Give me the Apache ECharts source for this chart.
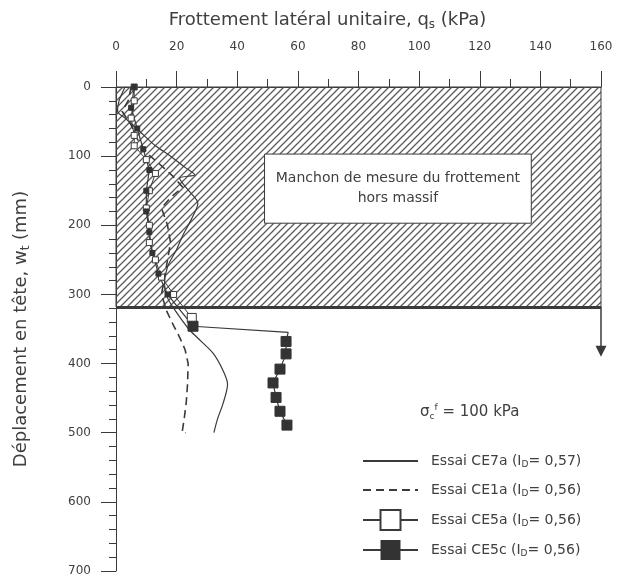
<!DOCTYPE html>
<html>
<head>
<meta charset="utf-8">
<script src="https://cdn.jsdelivr.net/npm/echarts@6/dist/echarts.min.js"></script>
<style>
html, body { margin: 0; padding: 0; background: #fff; }
#chart { width: 624px; height: 578px; }
</style>
</head>
<body>
<div id="chart"></div>
<script>
// essais : nom, indice de densité
var seriesNames = ['CE7a', 'CE1a', 'CE5a', 'CE5c'];
var idValues = ['0,57', '0,56', '0,56', '0,56'];

// zone du manchon hors massif (mm) et cadre du texte [qs, wt]
var sleeveDepth = 318;
var arrowEnd = 382;
var noteBox = [[49, 97], [137, 197]];
var stressValue = '100 kPa';

// points [qs (kPa), wt (mm)]
var ce7a = [[3,0],[1,20],[0.5,35],[3,45],[8,65],[13,85],[18,100],[23,117],[26,127],[21,132],[24,150],[27,168],[25,190],[22,215],[20,235],[17,260],[16,285],[17,305],[19.5,323],[24,350],[26.7,362],[32,385],[35.3,410],[36.8,430],[35.3,458],[33.5,480],[32.3,500]];
var ce1a = [[5,0],[4,20],[2,35],[5,55],[7,75],[10,95],[14,110],[19,130],[22,145],[18,160],[15,175],[17,200],[18,225],[17,250],[16,275],[15,300],[16.8,325],[19,345],[21,362],[22.8,380],[23.8,400],[23.6,430],[23.2,455],[22.5,480],[21.8,500],[23,500]];
var ce5a = [[6,0],[6,20],[5,45],[6,70],[6,85],[10,105],[13,125],[11,150],[10,175],[11,200],[11,225],[13,250],[15,275],[19,300],[25,334]];
var ce5c = [[6,0],[5,30],[7,60],[9,90],[11,120],[10,150],[10,180],[11,210],[12,240],[14,270],[17,300],[25.4,346],[56.8,355],[56.1,368],[56.1,386],[54.1,408],[51.8,428],[52.8,449],[54.1,469],[56.4,489]];
var ce5cBend = 12;

var ink = '#3a3a3a';
var txt = '#404040';
var font = 'DejaVu Sans';

var hatch = function() {
	var c = document.createElement('canvas');
	c.width = 7;
	c.height = 7;
	var g = c.getContext('2d');
	g.strokeStyle = '#5a5a5a';
	g.lineWidth = 1.3;
	g.beginPath();
	g.moveTo(0, 7); g.lineTo(7, 0);
	g.moveTo(-1, 1); g.lineTo(1, -1);
	g.moveTo(6, 8); g.lineTo(8, 6);
	g.stroke();
	return c;
};

var chart = echarts.init(document.getElementById('chart'));

var option = {
	animation: false,
	backgroundColor: '#fff',
	textStyle: { fontFamily: font, color: txt },
	grid: { left: 116, right: 23, top: 87, bottom: 7 },
	xAxis: {
		type: 'value',
		position: 'top',
		offset: 8,
		min: 0,
		max: 160,
		interval: 20,
		name: 'Frottement latéral unitaire, q{sub|s} (kPa)',
		nameLocation: 'middle',
		nameGap: 48,
		nameTextStyle: {
			fontSize: 18, color: txt, fontFamily: font, padding: [0, 62, 0, 0],
			rich: { sub: { fontSize: 12, color: txt, fontFamily: font, padding: [9, 0, 0, 0] } }
		},
		axisLine: { lineStyle: { color: ink, width: 1 } },
		axisTick: { length: 16, lineStyle: { color: ink } },
		minorTick: { show: true, splitNumber: 2, length: 8, lineStyle: { color: ink } },
		axisLabel: { margin: 26, fontSize: 12, color: txt, fontFamily: font },
		splitLine: { show: false }
	},
	yAxis: {
		type: 'value',
		inverse: true,
		min: 0,
		max: 700,
		interval: 100,
		name: 'Déplacement en tête, w{sub|t} (mm)',
		nameLocation: 'middle',
		nameGap: 84,
		nameTextStyle: {
			fontSize: 18, color: txt, fontFamily: font,
			rich: { sub: { fontSize: 12, color: txt, fontFamily: font, padding: [9, 0, 0, 0] } }
		},
		axisLine: { lineStyle: { color: ink, width: 1 } },
		axisTick: { length: 15, lineStyle: { color: ink } },
		minorTick: { show: true, splitNumber: 5, length: 7, lineStyle: { color: ink } },
		axisLabel: { margin: 25, fontSize: 12, color: txt, fontFamily: font },
		splitLine: { show: false }
	},
	legend: {
		data: seriesNames,
		orient: 'vertical',
		left: 357,
		top: 446,
		itemWidth: 55,
		itemHeight: 25,
		itemGap: 9,
		selectedMode: false,
		formatter: function(name) {
			var i = seriesNames.indexOf(name);
			return 'Essai ' + name + ' (I{sub|D}= ' + idValues[i] + ')';
		},
		textStyle: {
			fontSize: 14, color: txt, fontFamily: font, padding: [0, 0, 0, 8],
			rich: { sub: { fontSize: 9, color: txt, fontFamily: font, padding: [7, 0, 0, 0] } }
		}
	},
	graphic: [{
		type: 'text',
		left: 420,
		top: 403,
		style: {
			text: '{b|σ}{sub|c}{sup|f} = ' + stressValue,
			fontSize: 15,
			fill: txt,
			fontFamily: font,
			rich: {
				b: { fontSize: 15, fill: txt, fontFamily: font },
				sub: { fontSize: 9, fill: txt, fontFamily: font, padding: [9, 0, 0, 0] },
				sup: { fontSize: 9, fill: txt, fontFamily: font, padding: [0, 0, 9, 0] }
			}
		}
	}],
	series: [{
		name: 'zone',
		type: 'line',
		data: [],
		silent: true,
		markArea: {
			silent: true,
			data: [
				[{ coord: [0, 0], itemStyle: { color: { image: hatch(), repeat: 'repeat' }, borderColor: ink, borderWidth: 1 } },
				 { coord: [160, sleeveDepth] }],
				[{ coord: noteBox[0], itemStyle: { color: '#fff', borderColor: ink, borderWidth: 1 },
				   label: { show: true, position: 'inside', formatter: 'Manchon de mesure du frottement\nhors massif',
				            fontSize: 14, lineHeight: 20, color: txt, fontFamily: font } },
				 { coord: noteBox[1] }]
			]
		},
		markLine: {
			silent: true,
			symbol: 'none',
			label: { show: false },
			data: [
				[{ coord: [0, sleeveDepth], lineStyle: { color: ink, width: 3, type: 'solid' } },
				 { coord: [160, sleeveDepth] }],
				[{ coord: [160, sleeveDepth], symbol: 'none', lineStyle: { color: ink, width: 1.5, type: 'solid' } },
				 { coord: [160, arrowEnd], symbol: 'triangle', symbolSize: [11, 11] }]
			]
		}
	}, {
		name: seriesNames[0],
		type: 'line',
		data: ce7a,
		symbol: 'none',
		smooth: 0.3,
		lineStyle: { color: ink, width: 1.2 },
		itemStyle: { color: ink, opacity: 0 }
	}, {
		name: seriesNames[1],
		type: 'line',
		data: ce1a,
		symbol: 'none',
		lineStyle: { color: ink, width: 1.6, type: [8, 5] },
		itemStyle: { color: ink, opacity: 0 }
	}, {
		name: seriesNames[2],
		type: 'line',
		data: ce5a,
		symbol: 'rect',
		symbolSize: function(v) { return v[1] > sleeveDepth ? 9 : 6; },
		lineStyle: { color: ink, width: 1 },
		itemStyle: { color: '#fff', borderColor: ink, borderWidth: 1 }
	}, {
		name: seriesNames[3],
		type: 'line',
		data: ce5c.map(function(p, i) { return i === ce5cBend ? { value: p, symbol: 'none' } : p; }),
		symbol: 'rect',
		symbolSize: function(v) { return v[1] > sleeveDepth ? 10 : 5; },
		lineStyle: { color: ink, width: 1.2 },
		itemStyle: { color: '#333', borderColor: '#333' }
	}]
};

chart.setOption(option);
</script>
</body>
</html>
